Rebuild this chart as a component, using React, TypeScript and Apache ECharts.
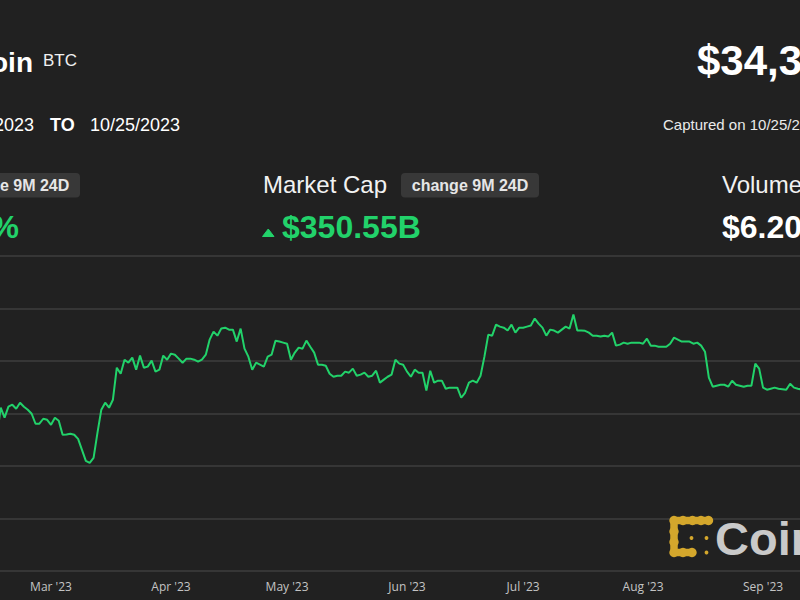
import React, { useEffect, useRef } from "react";
import * as echarts from "echarts";

// ---- data ----
const startDate = "2023-01-01";
const dayCount = 298; // 01/01/2023 .. 10/25/2023
const monthLabels = ["Jan '23", "Feb '23", "Mar '23", "Apr '23", "May '23", "Jun '23", "Jul '23", "Aug '23", "Sep '23", "Oct '23"];
const shownMonths = ["03", "04", "05", "06", "07", "08", "09"];

const valuesJanFeb = [
  16540, 16610, 16680, 16670, 16850, 16830, 16950, 16940, 17120, 17180,
  17440, 17940, 18850, 19930, 20950, 20870, 21180, 21130, 20680, 21080,
  22670, 22780, 22710, 22920, 22630, 23060, 23010, 23080, 23030, 23750,
  22830, 23130, 23730, 23440, 23330, 23320, 22930, 22760, 23260, 22960,
  21800, 21630, 21860, 21790, 21780, 22200,
];
const valuesFebApr = [
  24440, 23680, 24520, 24670, 24360, 24820, 24520, 24290, 23980, 23220,
  23220, 23600, 23520, 23140, 23680, 23450, 22380, 22400, 22460, 22380,
  22070, 21230, 20390, 20240, 20620, 22530, 24290, 24820, 24440, 25050,
  27490, 27030, 28100, 27870, 28260, 27340, 28410, 27490, 27570, 28030,
  27190, 27340, 28410, 28100, 28560, 28480, 28180, 27870, 28180, 28180,
  28100, 27950, 28100, 28480, 29630,
];
const valuesAprJun = [
  30240, 29930, 30470, 30540, 30390, 30390, 29480, 30470, 28940, 28330,
  27340, 27870, 27720, 27570, 28330, 28480, 29550, 29480, 29400, 29320,
  28100, 28640, 29020, 28940, 29550, 29090, 28640, 27720, 27720, 27640,
  27030, 26800, 26880, 26880, 27190, 27110, 27420, 26880, 26960, 27110,
  26800, 26880, 27260, 26350, 26580, 26800, 26960, 28100, 27800, 27720,
  27190, 26800, 27340, 27110, 27110, 25740, 27260, 26350, 26500, 26500,
];
const valuesJunAug = [
  25890, 25970, 25970, 25970, 25200, 25580, 26350, 26500, 26350, 26880,
  28330, 30010, 29930, 30770, 30620, 30540, 30320, 30770, 30160, 30540,
  30540, 30620, 30700, 31230, 30850, 30540, 29930, 30390, 30320, 30160,
  30390, 30620, 30470, 31540, 30320, 30320, 30300, 30160, 29930, 29930,
  29860, 29930, 29860, 30160, 29170, 29250, 29400, 29320, 29400, 29400,
  29400, 29320, 29700, 29170, 29170, 29090, 29090, 29090, 29320, 29780,
];
const valuesAugSep = [
  29630, 29480, 29480, 29480, 29320, 29400, 29170, 28710, 26730, 26040,
  26120, 26190, 26190, 26040, 26500, 26190, 26120, 26040, 26120, 26120,
  27800, 27420, 25970, 25810, 25890, 25970, 25890, 25850, 25810, 26270,
  25970, 25890,
];
const valuesSepOct = [
  25830, 25160, 25840, 26230, 26530, 26610, 26570, 26530, 26760, 27210,
  27130, 26570, 26580, 26580, 26260, 26300, 26220, 26370, 27030, 26910,
  26970, 27990, 27530, 27430, 27790, 27410, 27950, 27970, 27940, 27590,
  27390, 26870, 26760, 26860, 26860, 27160, 28520, 28420, 28330, 28720,
  29680, 29920, 29990, 33090, 34500,
];
const yTicks = [12000, 16000, 20000, 24000, 28000, 32000, 36000];

// ---- layout ----
const OFF = 300;
const CW = 1400;
const BG = "#212121";
const GREEN = "#22d26a";
const FONT = "Liberation Sans";

function buildDates(): string[] {
  const out: string[] = [];
  const t0 = Date.parse(startDate + "T00:00:00Z");
  for (let i = 0; i < dayCount; i++) {
    out.push(new Date(t0 + i * 86400000).toISOString().slice(0, 10));
  }
  return out;
}

export default function App() {
  const ref = useRef<HTMLDivElement>(null);
  useEffect(() => {
    if (!ref.current) return;
    const chart = echarts.init(ref.current, null, { renderer: "svg" });
    const dates = buildDates();
    const values = [
      ...valuesJanFeb,
      ...valuesFebApr,
      ...valuesAprJun,
      ...valuesJunAug,
      ...valuesAugSep,
      ...valuesSepOct,
    ];
    const X = (x: number) => x + OFF;
    const txt = (
      text: string,
      x: number,
      y: number,
      size: number,
      opts: { bold?: boolean; fill?: string; align?: string } = {}
    ) => ({
      type: "text",
      x: X(x),
      y,
      style: {
        text,
        fontFamily: FONT,
        fontSize: size,
        fontWeight: opts.bold ? "bold" : "normal",
        fill: opts.fill || "#ffffff",
        align: opts.align || "left",
        verticalAlign: "middle",
      },
      z: 10,
    });
    const badge = (x: number, w: number) => [
      {
        type: "rect",
        shape: { x: X(x), y: 173, width: w, height: 24.5, r: 4 },
        style: { fill: "#383838" },
        z: 9,
      },
      txt("change 9M 24D", x + w / 2, 185.5, 16, { bold: true, fill: "#e6e6e6", align: "center" }),
    ];
    const gold = "#d4a72c";
    const blobs: [number, number][] = [
      [674, 520.5], [683, 520.5], [692.5, 520.5], [701, 520.5], [708.5, 520.5],
      [674, 531.5], [674, 542], [674, 552.5], [683, 552.5], [692, 552.5],
    ];
    const logo: any[] = [
      {
        type: "polyline",
        shape: { points: [[X(708.5), 520.5], [X(674), 520.5], [X(674), 552.5], [X(692), 552.5]] },
        style: { stroke: gold, lineWidth: 7.5, lineJoin: "round", lineCap: "round", fill: null },
        z: 9,
      },
      ...blobs.map(([cx, cy]) => ({
        type: "circle",
        shape: { cx: X(cx), cy, r: 4.7 },
        style: { fill: gold },
        z: 9,
      })),
      ...[[691.5, 538], [706.5, 538], [706.5, 552.5]].map(([cx, cy]) => ({
        type: "circle",
        shape: { cx: X(cx), cy, r: 1.9 },
        style: { fill: gold },
        z: 9,
      })),
      txt("CoinDesk", 715, 538.5, 47, { bold: true, fill: "#c9c9c9" }),
    ];

    const graphic: any[] = [
      txt("Bitcoin", 33, 62, 28, { bold: true, align: "right" }),
      txt("BTC", 43, 60.5, 17, { fill: "#f0f0f0" }),
      txt("01/01/2023", 34, 125, 18, { align: "right" }),
      txt("TO", 50, 125, 18, { bold: true }),
      txt("10/25/2023", 90, 125, 18),
      txt("$34,396", 697, 60, 42, { bold: true }),
      txt("Captured on 10/25/2023", 663, 124.5, 15, { fill: "#eaeaea" }),
      // price stat
      ...badge(-58, 138),
      txt("107.74%", 19, 227, 32, { bold: true, fill: GREEN, align: "right" }),
      // market cap stat
      txt("Market Cap", 263, 184, 24, { fill: "#f2f2f2" }),
      ...badge(401, 138),
      {
        type: "polygon",
        shape: { points: [[X(262.5), 236.5], [X(274), 236.5], [X(268.25), 229]] },
        style: { fill: GREEN, stroke: GREEN, lineWidth: 1, lineJoin: "round" },
        z: 10,
      },
      txt("$350.55B", 282, 227, 32, { bold: true, fill: GREEN }),
      // volume stat
      txt("Volume", 722, 184, 24, { fill: "#f2f2f2" }),
      txt("$6.20B", 722, 227, 32, { bold: true }),
      ...logo,
    ];

    chart.setOption({
      animation: false,
      backgroundColor: BG,
      grid: { left: 122.7, right: 128, top: 256, bottom: 29, containLabel: false },
      xAxis: {
        type: "category",
        data: dates,
        boundaryGap: false,
        axisLine: { show: false },
        axisTick: { show: false },
        splitLine: { show: false },
        axisLabel: {
          interval: (_i: number, v: string) => v.endsWith("-01") && shownMonths.includes(v.slice(5, 7)),
          formatter: (v: string) => monthLabels[parseInt(v.slice(5, 7), 10) - 1],
          color: "#c4c4c4",
          fontFamily: "Open Sans",
          fontSize: 12,
          margin: 9,
        },
      },
      yAxis: {
        type: "value",
        min: yTicks[0],
        max: yTicks[yTicks.length - 1],
        interval: yTicks[1] - yTicks[0],
        axisLabel: { show: false },
        axisLine: { show: false },
        axisTick: { show: false },
        splitLine: { lineStyle: { color: "#3e3e3e", width: 1.5 } },
      },
      series: [
        {
          type: "line",
          data: values,
          showSymbol: false,
          symbol: "none",
          lineStyle: { color: GREEN, width: 2 },
          z: 5,
        },
      ],
      graphic,
    });
    return () => chart.dispose();
  }, []);

  return (
    <div
      style={{
        position: "fixed",
        left: 0,
        top: 0,
        width: 800,
        height: 600,
        overflow: "hidden",
        background: BG,
      }}
    >
      <div
        ref={ref}
        style={{ position: "absolute", left: -OFF, top: 0, width: CW, height: 600 }}
      />
    </div>
  );
}
